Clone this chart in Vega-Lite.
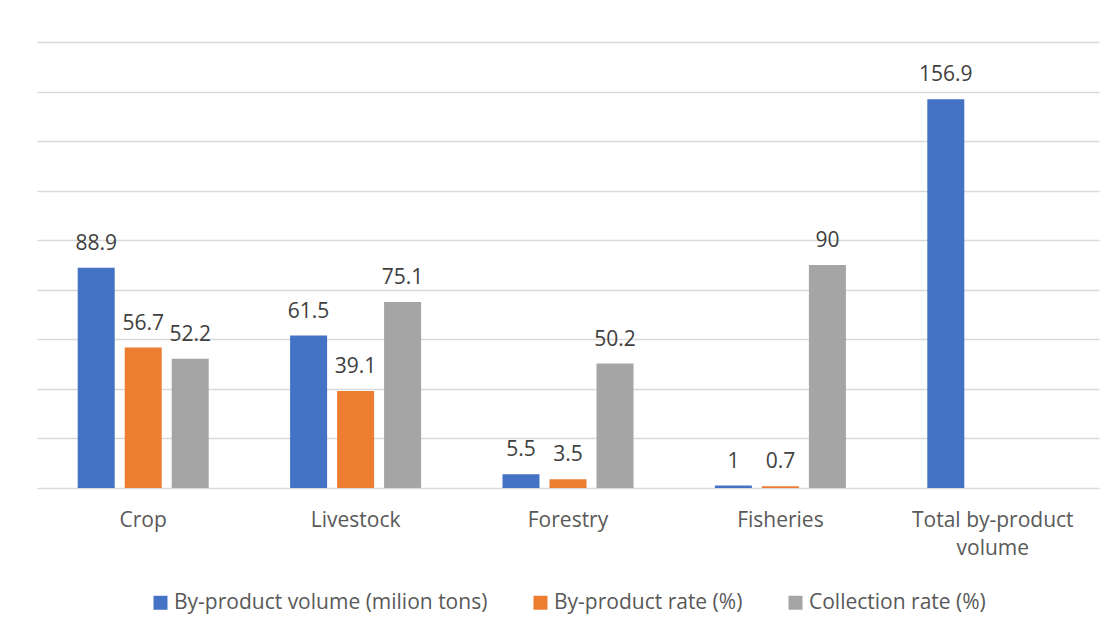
{
  "$schema": "https://vega.github.io/schema/vega-lite/v6.json",
  "width": 1062,
  "height": 446,
  "autosize": {"type": "none"},
  "padding": {"left": 37, "top": 42, "right": 16, "bottom": 145},
  "background": "white",
  "config": {"view": {"stroke": null}, "font": "Open Sans"},
  "data": {
    "values": [
      {"category": "Crop", "series": "By-product volume (milion tons)", "value": 88.9},
      {"category": "Crop", "series": "By-product rate (%)", "value": 56.7},
      {"category": "Crop", "series": "Collection rate (%)", "value": 52.2},
      {"category": "Livestock", "series": "By-product volume (milion tons)", "value": 61.5},
      {"category": "Livestock", "series": "By-product rate (%)", "value": 39.1},
      {"category": "Livestock", "series": "Collection rate (%)", "value": 75.1},
      {"category": "Forestry", "series": "By-product volume (milion tons)", "value": 5.5},
      {"category": "Forestry", "series": "By-product rate (%)", "value": 3.5},
      {"category": "Forestry", "series": "Collection rate (%)", "value": 50.2},
      {"category": "Fisheries", "series": "By-product volume (milion tons)", "value": 1},
      {"category": "Fisheries", "series": "By-product rate (%)", "value": 0.7},
      {"category": "Fisheries", "series": "Collection rate (%)", "value": 90},
      {"category": "Total by-product volume", "series": "By-product volume (milion tons)", "value": 156.9}
    ]
  },
  "encoding": {
    "x": {
      "field": "category",
      "type": "nominal",
      "sort": ["Crop", "Livestock", "Forestry", "Fisheries", "Total by-product volume"],
      "scale": {"paddingInner": 0, "paddingOuter": 0},
      "axis": {
        "title": null,
        "domain": false,
        "ticks": false,
        "tickSize": 0,
        "labelAngle": 0,
        "labelFont": "Open Sans",
        "labelFontSize": 21,
        "labelColor": "#595959",
        "labelBaseline": "alphabetic",
        "labelPadding": 38,
        "labelLineHeight": 28,
        "labelLimit": 300,
        "labelExpr": "datum.label == 'Total by-product volume' ? ['Total by-product', 'volume'] : datum.label"
      }
    },
    "xOffset": {
      "field": "series",
      "type": "nominal",
      "sort": ["By-product volume (milion tons)", "By-product rate (%)", "Collection rate (%)"],
      "scale": {"domain": ["By-product volume (milion tons)", "By-product rate (%)", "Collection rate (%)"], "paddingInner": 0.2128, "paddingOuter": 0.866}
    },
    "y": {
      "field": "value",
      "type": "quantitative",
      "scale": {"domain": [0, 180], "nice": false},
      "axis": {
        "title": null,
        "labels": false,
        "ticks": false,
        "domain": false,
        "grid": true,
        "gridColor": "#d9d9d9",
        "gridWidth": 1.5,
        "values": [0, 20, 40, 60, 80, 100, 120, 140, 160, 180]
      }
    }
  },
  "layer": [
    {
      "mark": {"type": "bar"},
      "encoding": {
        "color": {
          "field": "series",
          "type": "nominal",
          "scale": {
            "domain": ["By-product volume (milion tons)", "By-product rate (%)", "Collection rate (%)"],
            "range": ["#4472C4", "#ED7D31", "#A5A5A5"]
          },
          "legend": {
            "title": null,
            "orient": "none",
            "legendX": 113,
            "legendY": 550,
            "direction": "horizontal",
            "symbolType": "square",
            "symbolSize": 196,
            "symbolStrokeWidth": 0,
            "labelFont": "Open Sans",
            "labelFontSize": 21,
            "labelColor": "#595959",
            "labelOffset": 3,
            "columnPadding": 42,
            "padding": 0,
            "labelLimit": 400
          }
        }
      }
    },
    {
      "mark": {"type": "text", "baseline": "alphabetic", "dy": -18, "font": "Open Sans", "fontSize": 21, "color": "#404040"},
      "encoding": {
        "text": {"field": "value", "type": "quantitative"}
      }
    }
  ]
}
